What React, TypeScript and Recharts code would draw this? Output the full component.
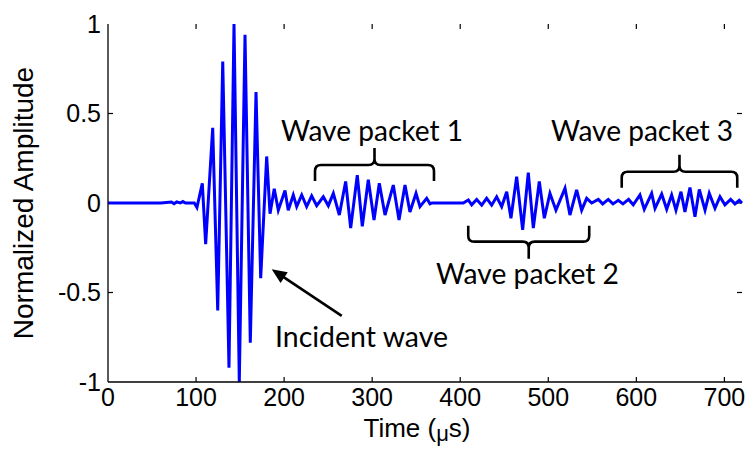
import React from 'react';
import { LineChart, Line, XAxis, YAxis, ReferenceLine, ReferenceDot } from 'recharts';

// ---- data ----
const timeUs = [
  0, 60, 72, 75, 78, 82, 85, 88, 98, 101,
  107.1, 110.9, 118.9, 124.6, 130.3, 137.4, 143.1, 149.1, 155.6, 161.6,
  168.1, 173.4, 180.2, 184.0, 188.8, 193.4, 201.0, 204.7, 210.4, 214.3,
  220.0, 225.6, 231.3, 237.0, 244.5, 250.2, 255.9, 262.7, 269.9, 275.6,
  283.1, 288.8, 295.6, 302.1, 308.1, 314.6, 324.0, 330.5, 337.3, 342.9,
  349.8, 354.3, 361.9, 365.7, 368.0, 403.5, 409.2, 413.0, 418.7, 424.4,
  430.0, 435.7, 441.4, 447.1, 452.8, 457.6, 464.1, 470.9, 477.3, 483.0,
  489.8, 495.5, 501.9, 508.7, 519.0, 524.6, 532.2, 537.9, 543.6, 549.3,
  556.8, 561.8, 568.1, 573.5, 579.5, 584.8, 591.2, 596.5, 604.1, 609.0,
  617.4, 621.2, 628.8, 634.5, 640.1, 645.0, 650.7, 655.2, 660.9, 666.6,
  671.5, 678.0, 682.8, 689.3, 695.0, 700.6, 707.1, 712.0, 716.9, 720,
];
const amplitude = [
  0, 0, 0.006, -0.004, 0.006, 0, 0.008, 0, 0, -0.025,
  0.11, -0.23, 0.42, -0.6, 0.79, -0.92, 1.0, -1.0, 0.94, -0.78,
  0.62, -0.42, 0.26, -0.06, 0.08, -0.04, 0.07, -0.04, 0.045, -0.02,
  0.045, -0.02, 0.04, -0.015, 0.035, -0.015, 0.054, -0.067, 0.12, -0.14,
  0.156, -0.13, 0.13, -0.095, 0.11, -0.067, 0.1, -0.095, 0.1, -0.05,
  0.054, -0.02, 0.026, -0.005, 0, 0, 0.017, -0.01, 0.02, -0.012,
  0.026, -0.012, 0.035, -0.02, 0.063, -0.085, 0.147, -0.15, 0.17, -0.14,
  0.12, -0.085, 0.054, -0.04, 0.082, -0.067, 0.073, -0.04, 0.026, 0,
  0.02, -0.005, 0.02, -0.005, 0.015, -0.005, 0.02, -0.01, 0.045, -0.035,
  0.054, -0.03, 0.05, -0.035, 0.045, -0.04, 0.063, -0.05, 0.087, -0.077,
  0.076, -0.04, 0.054, -0.03, 0.035, -0.01, 0.02, -0.005, 0.015, 0,
];
const xTicks = [0, 100, 200, 300, 400, 500, 600, 700];
const yTicks = [-1, -0.5, 0, 0.5, 1];
const xDomain = [0, 720];
const yDomain = [-1, 1];

// annotations (data coordinates)
const annotationTexts = ['Wave packet 1', 'Wave packet 2', 'Wave packet 3', 'Incident wave'];
const annotationTime = [299.8, 476.4, 606.4, 287.9];
const annotationAmp = [0.346, -0.4525, 0.346, -0.804];
const braceStart = [235.1, 409.1, 583.4];
const braceEnd = [370.2, 546.5, 714.6];
const braceLevel = [0.212, -0.216, 0.175];
const braceTipUp = [true, false, true];
const arrowFrom = { t: 265.4, v: -0.631 };
const arrowTo = { t: 185.9, v: -0.37 };

const data = timeUs.map((t, i) => ({ t, amp: amplitude[i] }));

// ---- styles ----
const AXIS_FONT = 'Liberation Sans';
const NOTE_FONT = 'Lato';
const noteWidths = [182, 183, 182, 173];

const TickMarks = (props: any) => {
  const { x1, y1, x2, y2 } = props;
  const len = 5;
  const dx = x2 - x1;
  const dy = y2 - y1;
  const d = Math.sqrt(dx * dx + dy * dy) || 1;
  const ux = (dx / d) * len;
  const uy = (dy / d) * len;
  return (
    <g stroke="#000" strokeWidth={1.2}>
      <line x1={x1} y1={y1} x2={x1 + ux} y2={y1 + uy} />
      <line x1={x2} y1={y2} x2={x2 - ux} y2={y2 - uy} />
    </g>
  );
};

const makeBrace = (tipUp: boolean) => (props: any) => {
  const { x1, y1, x2 } = props;
  const y = y1;
  const s = tipUp ? 1 : -1;
  const h = 16;
  const hs = 17;
  const r = 6;
  const xc = (x1 + x2) / 2;
  const d = [
    `M ${x1} ${y + s * h}`,
    `L ${x1} ${y + s * r}`,
    `Q ${x1} ${y} ${x1 + r} ${y}`,
    `L ${xc - r} ${y}`,
    `Q ${xc} ${y} ${xc} ${y - s * r}`,
    `L ${xc} ${y - s * hs}`,
    `M ${xc} ${y - s * r}`,
    `Q ${xc} ${y} ${xc + r} ${y}`,
    `L ${x2 - r} ${y}`,
    `Q ${x2} ${y} ${x2} ${y + s * r}`,
    `L ${x2} ${y + s * h}`,
  ].join(' ');
  return <path d={d} fill="none" stroke="#000" strokeWidth={2.6} />;
};

const ArrowShape = (props: any) => {
  const { x1, y1, x2, y2 } = props;
  const dx = x2 - x1;
  const dy = y2 - y1;
  const d = Math.sqrt(dx * dx + dy * dy) || 1;
  const ux = dx / d;
  const uy = dy / d;
  const L = 15;
  const W = 6.5;
  const bx = x2 - ux * L;
  const by = y2 - uy * L;
  const px = -uy * W;
  const py = ux * W;
  return (
    <g>
      <line x1={x1} y1={y1} x2={bx + ux * 2} y2={by + uy * 2} stroke="#000" strokeWidth={2.6} />
      <polygon points={`${x2},${y2} ${bx + px},${by + py} ${bx - px},${by - py}`} fill="#000" />
    </g>
  );
};

const makeNote = (text: string, width: number) => (props: any) => (
  <text
    x={props.cx}
    y={props.cy}
    textAnchor="middle"
    style={{ fontFamily: NOTE_FONT, fontSize: 29 }}
    fill="#000"
    textLength={width}
    lengthAdjust="spacingAndGlyphs"
  >
    {text}
  </text>
);

const XTitle = (props: any) => {
  const vb = props.viewBox || { x: 108, y: 382, width: 634, height: 40 };
  const cx = vb.x + vb.width / 2 - 8;
  return (
    <text x={cx} y={437} textAnchor="middle" style={{ fontFamily: AXIS_FONT, fontSize: 26 }} fill="#000">
      Time (
      <tspan style={{ fontSize: 22 }} dy={4}>μ</tspan>
      <tspan dy={-4}>s)</tspan>
    </text>
  );
};

const YTitle = (props: any) => {
  const vb = props.viewBox || { x: 48, y: 24, width: 60, height: 358 };
  const x = 33;
  const y = vb.y + vb.height / 2;
  return (
    <text
      x={x}
      y={y}
      textAnchor="middle"
      transform={`rotate(-90 ${x} ${y})`}
      style={{ fontFamily: AXIS_FONT, fontSize: 28 }}
      fill="#000"
    >
      Normalized Amplitude
    </text>
  );
};

const tickStyle = { fill: '#000', fontSize: 25, fontFamily: AXIS_FONT, style: { fontFamily: AXIS_FONT } };

export default function App() {
  return (
    <div style={{ position: 'absolute', left: 0, top: 0, width: 752, height: 450, background: '#fff', fontFamily: AXIS_FONT }}>
      <LineChart
        width={752}
        height={450}
        data={data}
        margin={{ top: 24, right: 10, bottom: 28, left: 48 }}
        style={{ fontFamily: AXIS_FONT }}
      >
        <XAxis
          dataKey="t"
          type="number"
          domain={xDomain}
          ticks={xTicks}
          interval={0}
          height={40}
          tickSize={0}
          tickMargin={6}
          tickLine={false}
          axisLine={{ stroke: '#000', strokeWidth: 1.3 }}
          tick={tickStyle}
          label={XTitle}
        />
        <XAxis
          xAxisId="top"
          orientation="top"
          type="number"
          domain={xDomain}
          height={0}
          tick={false}
          tickLine={false}
          axisLine={{ stroke: '#000', strokeWidth: 1.3 }}
        />
        <YAxis
          type="number"
          domain={yDomain}
          ticks={yTicks}
          interval={0}
          width={60}
          tickSize={0}
          tickMargin={7}
          tickLine={false}
          axisLine={{ stroke: '#000', strokeWidth: 1.3 }}
          tick={tickStyle}
          label={YTitle}
        />
        <YAxis
          yAxisId="right"
          orientation="right"
          type="number"
          domain={yDomain}
          width={0}
          tick={false}
          tickLine={false}
          axisLine={{ stroke: '#000', strokeWidth: 1.3 }}
        />
        {xTicks.filter((t) => t > 0).map((t) => (
          <ReferenceLine key={`xt${t}`} x={t} shape={TickMarks} ifOverflow="visible" />
        ))}
        {yTicks.filter((v) => v > -1 && v < 1).map((v) => (
          <ReferenceLine key={`yt${v}`} y={v} shape={TickMarks} ifOverflow="visible" />
        ))}
        <Line
          dataKey="amp"
          type="linear"
          stroke="#0000ff"
          strokeWidth={3}
          dot={false}
          activeDot={false}
          isAnimationActive={false}
        />
        {braceStart.map((s, i) => (
          <ReferenceLine
            key={`br${i}`}
            segment={[
              { x: s, y: braceLevel[i] },
              { x: braceEnd[i], y: braceLevel[i] },
            ]}
            shape={makeBrace(braceTipUp[i])}
            ifOverflow="visible"
          />
        ))}
        <ReferenceLine
          segment={[
            { x: arrowFrom.t, y: arrowFrom.v },
            { x: arrowTo.t, y: arrowTo.v },
          ]}
          shape={ArrowShape}
          ifOverflow="visible"
        />
        {annotationTexts.map((txt, i) => (
          <ReferenceDot
            key={`an${i}`}
            x={annotationTime[i]}
            y={annotationAmp[i]}
            r={0}
            shape={makeNote(txt, noteWidths[i])}
            ifOverflow="visible"
          />
        ))}
      </LineChart>
    </div>
  );
}
